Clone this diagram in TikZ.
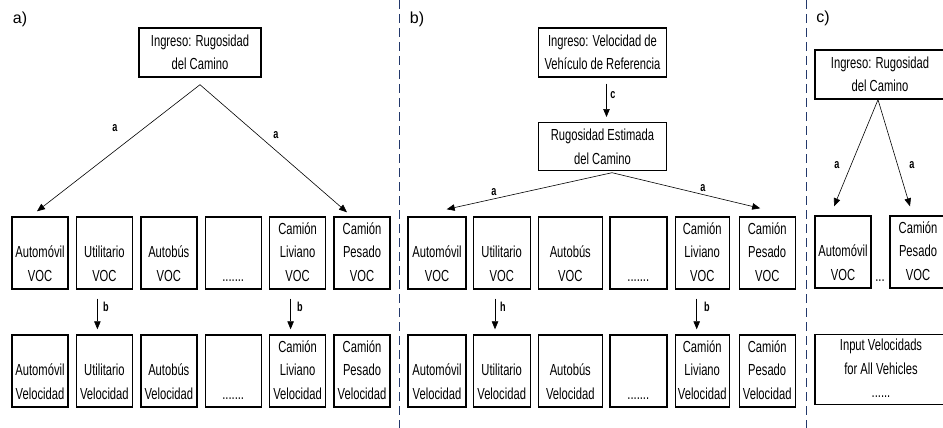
\documentclass[tikz,border=0pt]{standalone}
\usepackage{fontspec}
\setmainfont{Liberation Sans}[FakeStretch=0.7]
\newfontfamily\panelfont{Liberation Sans}
\usepackage{tikz}
\usetikzlibrary{arrows.meta,positioning,calc}
\definecolor{divblue}{HTML}{22386B}
\newcommand{\boxfont}{\fontsize{16}{23.5}\selectfont}
\newcommand{\arcfont}{\fontsize{13}{14}\selectfont\bfseries}

\begin{document}
\begin{tikzpicture}[x=1pt, y=-1pt,
    vehbox/.style={draw, line width=1.4pt, inner sep=0pt, align=center, font=\boxfont},
    vbox/.style={vehbox, minimum height=72pt},
    flow/.style={-{Triangle[length=8pt, width=6.5pt]}, line width=0.6pt},
    arclbl/.style={font=\arcfont, inner sep=1pt},
    panel/.style={font=\panelfont\fontsize{16}{18}\selectfont},
    divider/.style={divblue, line width=1pt, dash pattern=on 9pt off 5pt}]
    \clip (0,0) rectangle (943,428);
    \draw[divider] (399,0) -- (399,428);
    \draw[divider] (806,0) -- (806,428);

    % a) one roughness input
    \node[panel] (lblA) at (20,19) {a)};
    \node[vehbox, minimum width=122pt, minimum height=49pt] (inA) at (200,52.5) {Ingreso: Rugosidad\\del Camino};
    \foreach \i/\x/\veh in {1/40/{\\Automóvil}, 2/104.4/{\\Utilitario}, 3/168.8/{\\Autobús}, 4/233.2/{}, 5/297.6/{Camión\\Liviano}, 6/362/{Camión\\Pesado}} {
      \ifnum\i=4
        \node[vbox, minimum width=56pt] (vocA\i) at (\x,253) {\strut\\\\.......\strut};
        \node[vbox, minimum width=56pt] (velA\i) at (\x,371) {\strut\\\\.......\strut};
      \else
        \node[vbox, minimum width=56pt] (vocA\i) at (\x,253) {\strut\veh\\VOC\strut};
        \node[vbox, minimum width=56pt] (velA\i) at (\x,371) {\strut\veh\\Velocidad\strut};
      \fi
    }
    \coordinate (apexA) at ($(inA.south)+(0,7)$);
    \draw[flow] (apexA) -- ($(vocA1.north)+(-3,-5)$);
    \draw[flow] (apexA) -- ($(vocA6.north)+(-15,-4)$);
    \node[arclbl] (arcA1) at (115,128) {a};
    \node[arclbl] (arcA2) at (276,135) {a};
    \draw[flow, shorten <=9pt, shorten >=5pt] ([xshift=-7pt]vocA2.south) -- ([xshift=-7pt]velA2.north);
    \draw[flow, shorten <=9pt, shorten >=5pt] ([xshift=-7pt]vocA5.south) -- ([xshift=-7pt]velA5.north);
    \node[arclbl] (arcA3) at (106,307) {b};
    \node[arclbl] (arcA4) at (300,307) {b};

    % b) roughness from reference speed
    \node[panel] (lblB) at (417,19) {b)};
    \node[vehbox, minimum width=128pt, minimum height=49pt] (inB) at (602.5,52.5) {Ingreso: Velocidad de\\Vehículo de Referencia};
    \node[vehbox, minimum width=128pt, minimum height=48pt] (roughB) at (602.5,146.7) {Rugosidad Estimada\\del Camino};
    \foreach \i/\x/\w/\veh in {1/437/58/{\\Automóvil}, 2/501.7/57/{\\Utilitario}, 3/570.3/64/{\\Autobús}, 4/638.3/57/{}, 5/702.2/54/{Camión\\Liviano}, 6/767.2/56/{Camión\\Pesado}} {
      \ifnum\i=4
        \node[vbox, minimum width=\w pt] (vocB\i) at (\x,253) {\strut\\\\.......\strut};
        \node[vbox, minimum width=\w pt] (velB\i) at (\x,371) {\strut\\\\.......\strut};
      \else
        \node[vbox, minimum width=\w pt] (vocB\i) at (\x,253) {\strut\veh\\VOC\strut};
        \node[vbox, minimum width=\w pt] (velB\i) at (\x,371) {\strut\veh\\Velocidad\strut};
      \fi
    }
    \draw[flow, shorten <=6pt, shorten >=5pt] ([xshift=4pt]inB.south) -- ([xshift=4pt]roughB.north);
    \node[arclbl] (arcB0) at (613,95) {c};
    \coordinate (apexB) at ($(roughB.south)+(9.5,1.3)$);
    \draw[flow] (apexB) -- ($(vocB1.north)+(9.7,-7)$);
    \draw[flow] (apexB) -- ($(vocB6.north)+(-7,-8)$);
    \node[arclbl] (arcB1) at (494,192) {a};
    \node[arclbl] (arcB2) at (703,188) {a};
    \draw[flow, shorten <=9pt, shorten >=5pt] ([xshift=-6.7pt]vocB2.south) -- ([xshift=-6.7pt]velB2.north);
    \draw[flow, shorten <=9pt, shorten >=5pt] ([xshift=-5.5pt]vocB5.south) -- ([xshift=-5.5pt]velB5.north);
    \node[arclbl] (arcB3) at (503,307) {h};
    \node[arclbl] (arcB4) at (707,307) {b};

    % c) all vehicles at once
    \node[panel] (lblC) at (823,18) {c)};
    \node[vehbox, minimum width=130pt, minimum height=49pt] (inC) at (880,74.5) {Ingreso: Rugosidad\\del Camino};
    \node[vbox, minimum width=56pt] (vocC1) at (843,252) {\strut\\Automóvil\\VOC\strut};
    \node[vbox, minimum width=56pt] (vocC2) at (918,252) {\strut Camión\\Pesado\\VOC\strut};
    \node[font=\boxfont, inner sep=0pt] (dotsC) at (880,281) {...};
    \node[vehbox, minimum width=132pt, minimum height=69pt] (velC) at (881,369.5) {\strut Input Velocidads\\for All Vehicles\\......\strut};
    \coordinate (apexC) at ($(inC.south)+(-2,0)$);
    \draw[flow] (apexC) -- ($(vocC1.north)+(-9,-9)$);
    \draw[flow] (apexC) -- ($(vocC2.north)+(-8,-9)$);
    \node[arclbl] (arcC1) at (837,165) {a};
    \node[arclbl] (arcC2) at (912,165) {a};
\end{tikzpicture}
\end{document}
